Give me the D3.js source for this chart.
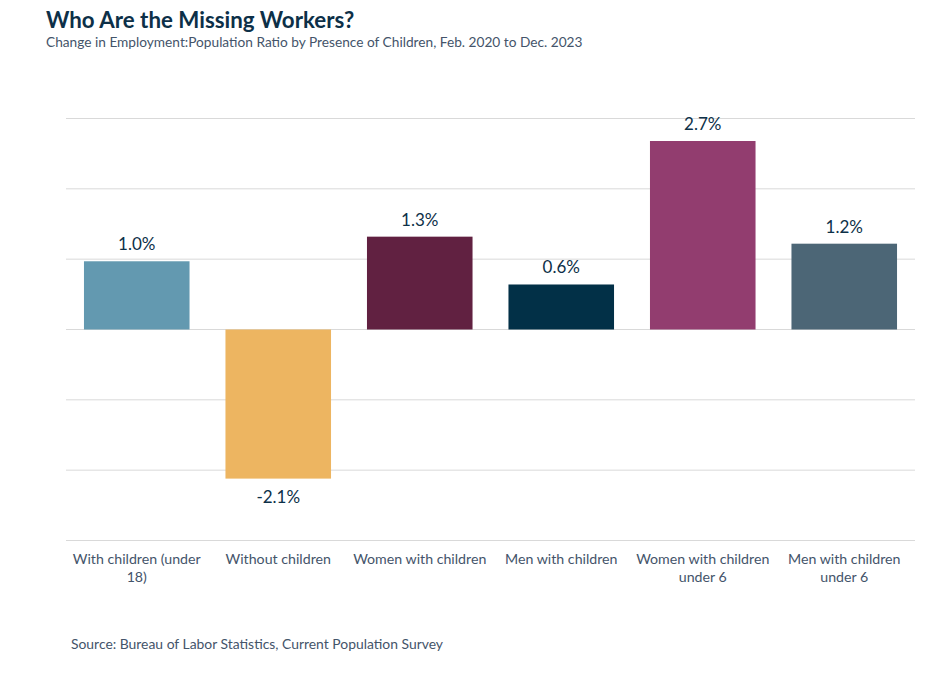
<!DOCTYPE html>
<html>
<head>
<meta charset="utf-8">
<script src="https://cdn.jsdelivr.net/npm/d3@7"></script>
<style>
  body { margin: 0; background: #fff; }
  text { font-family: Lato, "Open Sans", sans-serif; }
</style>
</head>
<body>
<div id="chart"></div>
<script>
// chart data
const categories = ["With children (under 18)", "Without children", "Women with children",
    "Men with children", "Women with children under 6", "Men with children under 6"];
const axisLines = [["With children (under", "18)"], ["Without children"], ["Women with children"],
    ["Men with children"], ["Women with children", "under 6"], ["Men with children", "under 6"]];
const values = [0.97, -2.12, 1.32, 0.64, 2.68, 1.22];
const valueLabels = ["1.0%", "-2.1%", "1.3%", "0.6%", "2.7%", "1.2%"];
const colors = ["#6399b0", "#edb561", "#612141", "#023047", "#923d6f", "#4c6676"];
const gridTicks = [-3, -2, -1, 0, 1, 2, 3];

const W = 936, H = 680;
const plot = { left: 66, right: 915, top: 118.5, bottom: 540.5 };

const svg = d3.select("#chart")
    .append("svg")
    .attr("width", W)
    .attr("height", H);

const x = d3.scaleBand()
    .domain(categories)
    .range([plot.left, plot.right])
    .paddingInner(0.254)
    .paddingOuter(0.127);

const y = d3.scaleLinear()
    .domain([-3, 3])
    .range([plot.bottom, plot.top]);

// gridlines
svg.append("g")
    .selectAll("line")
    .data(gridTicks)
    .enter()
    .append("line")
    .attr("x1", plot.left)
    .attr("x2", plot.right)
    .attr("y1", d => y(d))
    .attr("y2", d => y(d))
    .attr("stroke", "#d9d9d9")
    .attr("stroke-width", 1);

// bars
svg.append("g")
    .selectAll("rect")
    .data(values)
    .enter()
    .append("rect")
    .attr("x", (d, i) => x(categories[i]))
    .attr("width", x.bandwidth())
    .attr("y", d => y(Math.max(0, d)))
    .attr("height", d => Math.abs(y(d) - y(0)))
    .attr("fill", (d, i) => colors[i]);

// value labels
svg.append("g")
    .selectAll("text")
    .data(values)
    .enter()
    .append("text")
    .attr("x", (d, i) => x(categories[i]) + x.bandwidth() / 2)
    .attr("y", d => d >= 0 ? y(d) - 11 : y(d) + 24)
    .attr("text-anchor", "middle")
    .attr("fill", "#0d3048")
    .style("font-size", "17px")
    .text((d, i) => valueLabels[i]);

// category labels
const cat = svg.append("g")
    .selectAll("text")
    .data(axisLines)
    .enter()
    .append("text")
    .attr("x", (d, i) => x(categories[i]) + x.bandwidth() / 2)
    .attr("y", 564)
    .attr("text-anchor", "middle")
    .attr("fill", "#44546a")
    .style("font-size", "14.2px");

cat.selectAll("tspan")
    .data(d => d)
    .enter()
    .append("tspan")
    .attr("x", function () { return d3.select(this.parentNode).attr("x"); })
    .attr("dy", (d, i) => i === 0 ? 0 : 18)
    .text(d => d);

// title and subtitle
svg.append("text")
    .attr("x", 46)
    .attr("y", 28)
    .attr("fill", "#0d3048")
    .style("font-size", "22.3px")
    .style("font-weight", "bold")
    .text("Who Are the Missing Workers?");

svg.append("text")
    .attr("x", 46)
    .attr("y", 47)
    .attr("fill", "#44546a")
    .style("font-size", "13.7px")
    .text("Change in Employment:Population Ratio by Presence of Children, Feb. 2020 to Dec. 2023");

// source
svg.append("text")
    .attr("x", 71)
    .attr("y", 649)
    .attr("fill", "#44546a")
    .style("font-size", "13.9px")
    .text("Source: Bureau of Labor Statistics, Current Population Survey");
</script>
</body>
</html>
